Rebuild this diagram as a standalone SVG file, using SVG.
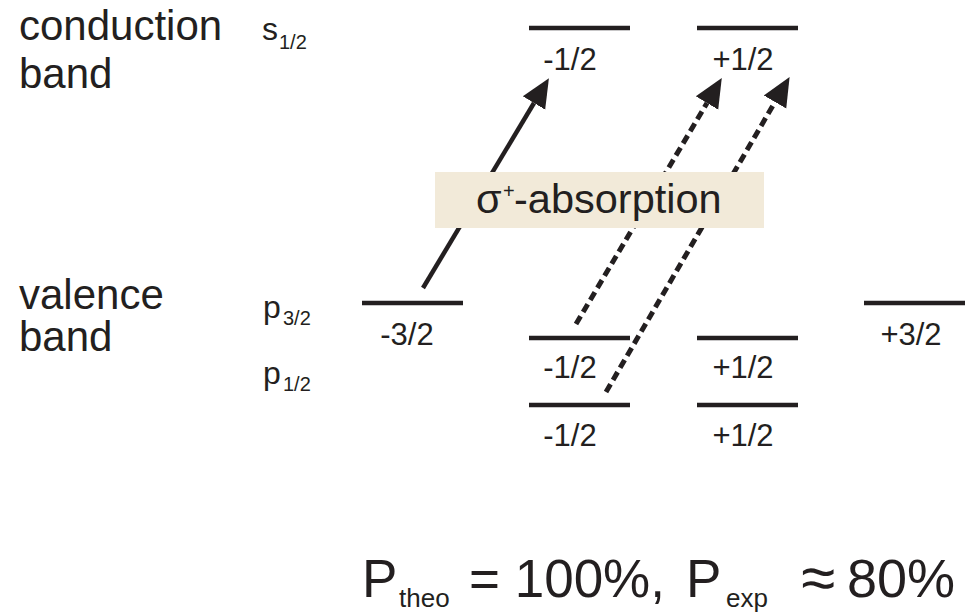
<svg xmlns="http://www.w3.org/2000/svg" width="978" height="613" viewBox="0 0 978 613">
  <defs>
    <style>
      text { font-family: "Liberation Sans", Arial, sans-serif; fill: #231f20; }
      .big { font-size: 42px; }
      .orb { font-size: 32px; }
      .sub { font-size: 20px; }
      .lab { font-size: 31px; text-anchor: middle; }
      .lvl { stroke: #231f20; stroke-width: 4.5; fill: none; }
      .arr { stroke: #231f20; stroke-width: 4.5; fill: none; marker-end: url(#head); }
      .dash { stroke-dasharray: 9 5; stroke-width: 5; }
      .box { fill: #f2ead9; }
      .abs { font-size: 41.5px; }
      .form { font-size: 53px; }
      .fsub { font-size: 26px; }
    </style>
    <marker id="head" markerUnits="userSpaceOnUse" markerWidth="32" markerHeight="30" viewBox="0 -15 32 30" refX="0" refY="0" orient="auto">
      <path d="M0,-13 L29,0 L0,13 Z" fill="#231f20"/>
    </marker>
  </defs>

  <g id="band-labels">
    <text class="big" x="19" y="40">conduction</text>
    <text class="big" x="19" y="88">band</text>
    <text class="big" x="19" y="309">valence</text>
    <text class="big" x="19" y="351">band</text>
  </g>

  <g id="orbital-labels">
    <text class="orb" x="262" y="40">s<tspan class="sub" x="279" y="49">1/2</tspan></text>
    <text class="orb" x="263" y="318">p<tspan class="sub" x="283" y="325">3/2</tspan></text>
    <text class="orb" x="263" y="384">p<tspan class="sub" x="283" y="391">1/2</tspan></text>
  </g>

  <g id="connectors">
    <line class="arr" x1="423" y1="288" x2="534" y2="103"/>
    <line class="arr dash" x1="576" y1="324" x2="707" y2="103"/>
    <line class="arr dash" x1="606" y1="392" x2="775" y2="102"/>
  </g>

  <g id="absorption-label">
    <rect class="box" x="435" y="172" width="329" height="56"/>
    <text class="abs" x="476" y="213">σ<tspan font-size="20" x="503" y="198">+</tspan><tspan x="514" y="213">-absorption</tspan></text>
  </g>

  <g id="s-minus-half">
    <line class="lvl" x1="529" y1="28" x2="630" y2="28"/>
    <text class="lab" x="570" y="70">-1/2</text>
  </g>
  <g id="s-plus-half">
    <line class="lvl" x1="697" y1="28" x2="798" y2="28"/>
    <text class="lab" x="743" y="70">+1/2</text>
  </g>
  <g id="p32-minus-three-half">
    <line class="lvl" x1="362" y1="303" x2="463" y2="303"/>
    <text class="lab" x="407" y="345">-3/2</text>
  </g>
  <g id="p32-minus-half">
    <line class="lvl" x1="529" y1="338" x2="630" y2="338"/>
    <text class="lab" x="570" y="378">-1/2</text>
  </g>
  <g id="p32-plus-half">
    <line class="lvl" x1="697" y1="338" x2="798" y2="338"/>
    <text class="lab" x="743" y="378">+1/2</text>
  </g>
  <g id="p32-plus-three-half">
    <line class="lvl" x1="864" y1="303" x2="965" y2="303"/>
    <text class="lab" x="911" y="345">+3/2</text>
  </g>
  <g id="p12-minus-half">
    <line class="lvl" x1="529" y1="405" x2="630" y2="405"/>
    <text class="lab" x="570" y="446">-1/2</text>
  </g>
  <g id="p12-plus-half">
    <line class="lvl" x1="697" y1="405" x2="798" y2="405"/>
    <text class="lab" x="743" y="446">+1/2</text>
  </g>

  <g id="formula">
    <text class="form" x="362" y="597">P<tspan class="fsub" x="399" y="607">theo</tspan><tspan x="469" y="597">= 100%,</tspan><tspan x="686" y="597">P</tspan><tspan class="fsub" x="726" y="607">exp</tspan><tspan font-size="62" x="801" y="599">≈</tspan><tspan font-size="54" x="847" y="597">80%</tspan></text>
  </g>
</svg>
